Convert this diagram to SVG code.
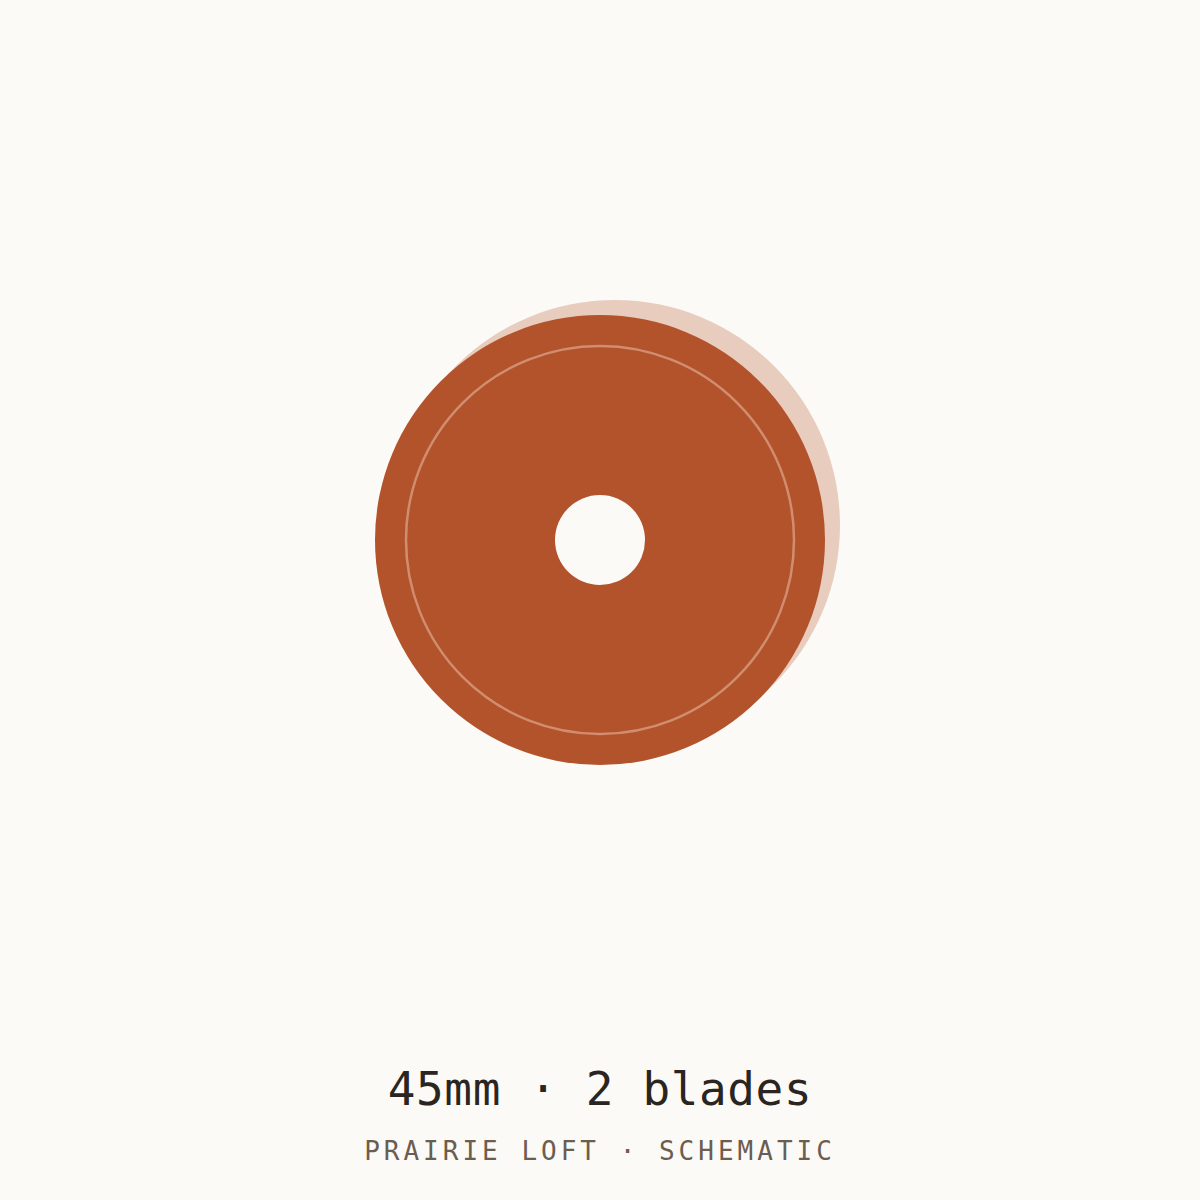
<svg xmlns="http://www.w3.org/2000/svg" width="1200" height="1200" viewBox="0 0 1200 1200">
<style>
.bg{fill:#FBFAF6}
.shadow{fill:#E8CDBF}
.disc{fill:#B3532B}
.ring{fill:none;stroke:#F0C8B4;stroke-opacity:0.5;stroke-width:2.5}
.hole{fill:#FBFAF6}
.title{font-family:"DejaVu Sans Mono","Liberation Mono",monospace;font-size:46px;fill:#2A2520;text-anchor:middle;letter-spacing:0.6px}
.sub{font-family:"DejaVu Sans Mono","Liberation Mono",monospace;font-size:26px;fill:#6B5D50;text-anchor:middle;letter-spacing:4px}
</style>
<rect class="bg" x="0" y="0" width="1200" height="1200"/>
<g id="blade">
<circle class="shadow" cx="615" cy="525" r="225"/>
<circle class="disc" cx="600" cy="540" r="225"/>
<circle class="ring" cx="600" cy="540" r="194"/>
<circle class="hole" cx="600" cy="540" r="45"/>
</g>
<g id="labels">
<text class="title" x="600" y="1105">45mm · 2 blades</text>
<text class="sub" x="600" y="1160">PRAIRIE LOFT · SCHEMATIC</text>
</g>
</svg>
